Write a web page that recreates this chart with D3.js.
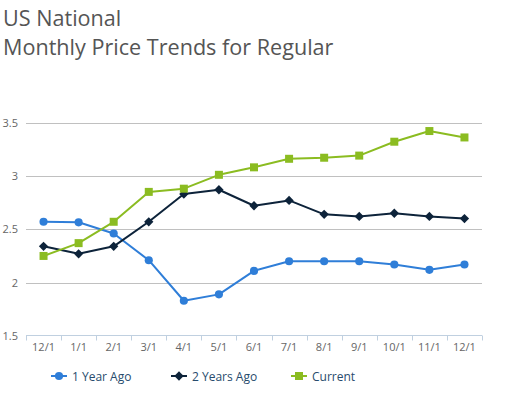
<!DOCTYPE html>
<html>
<head>
<meta charset="utf-8">
<script src="https://cdn.jsdelivr.net/npm/d3@7"></script>
<style>
  body { margin: 0; background: #fff; }
  svg { display: block; font-family: "Open Sans", sans-serif; }
</style>
</head>
<body>
<div id="chart"></div>
<script>
//-- DATA --\\
var months = ["12/1", "1/1", "2/1", "3/1", "4/1", "5/1", "6/1", "7/1", "8/1", "9/1", "10/1", "11/1", "12/1"];
var oneYearAgo = [2.57, 2.565, 2.46, 2.21, 1.83, 1.89, 2.11, 2.20, 2.20, 2.20, 2.17, 2.12, 2.17];
var twoYearsAgo = [2.34, 2.27, 2.34, 2.57, 2.83, 2.87, 2.72, 2.77, 2.64, 2.62, 2.65, 2.62, 2.60];
var current = [2.25, 2.37, 2.57, 2.85, 2.88, 3.01, 3.08, 3.16, 3.17, 3.19, 3.32, 3.42, 3.36];
var yTicks = [1.5, 2, 2.5, 3, 3.5];

//-- CONSTANTS --\\
var width = 513;
var height = 393;
var plotLeft = 26;
var plotRight = 482;
var plotTop = 122.5;
var plotBottom = 336;

var series = [
    {name: "1 Year Ago", values: oneYearAgo, color: "#2f7ed8", symbol: "circle"},
    {name: "2 Years Ago", values: twoYearsAgo, color: "#0d233a", symbol: "diamond"},
    {name: "Current", values: current, color: "#8bbc21", symbol: "square"}
];

var svg = d3.select("#chart").append("svg")
    .attr("width", width)
    .attr("height", height);

// title
var title = svg.append("text")
    .attr("fill", "#555")
    .style("font-size", "21.6px");
title.append("tspan").attr("x", 3).attr("y", 26).text("US National");
title.append("tspan").attr("x", 3).attr("y", 55).text("Monthly Price Trends for Regular");

//-- scales --\\
var x = d3.scaleBand()
    .domain(d3.range(months.length))
    .range([plotLeft, plotRight]);

var y = d3.scaleLinear()
    .domain([1.5, 3.5])
    .range([plotBottom, plotTop]);

// grid lines
svg.append("g")
    .selectAll("line")
    .data(yTicks.slice(1))
    .join("line")
    .attr("x1", plotLeft)
    .attr("x2", plotRight)
    .attr("y1", function (d) { return Math.round(y(d)) + 0.5; })
    .attr("y2", function (d) { return Math.round(y(d)) + 0.5; })
    .attr("stroke", "#c0c0c0")
    .attr("stroke-width", 1);

// y labels
svg.append("g")
    .selectAll("text")
    .data(yTicks)
    .join("text")
    .attr("x", 18)
    .attr("y", function (d) { return y(d) + 4; })
    .attr("text-anchor", "end")
    .attr("fill", "#666")
    .style("font-size", "11px")
    .text(function (d) { return d; });

// x axis
var xAxis = d3.axisBottom(x)
    .tickSize(5)
    .tickFormat(function (i) { return months[i]; });

var gx = svg.append("g")
    .attr("transform", "translate(0," + (Math.round(plotBottom) - 0.5) + ")")
    .call(xAxis);
gx.select(".domain").attr("stroke", "#c0d0e0").attr("d", "M" + plotLeft + ",0H" + plotRight);
gx.selectAll(".tick line").remove();
gx.selectAll(".tick text")
    .attr("fill", "#666")
    .attr("dy", "0.71em")
    .attr("y", 8)
    .style("font-size", "11px")
    .style("font-family", "Open Sans, sans-serif");

// band boundary ticks
gx.append("g")
    .selectAll("line")
    .data(d3.range(months.length + 1))
    .join("line")
    .attr("x1", function (i) { return Math.round(plotLeft + i * x.step()) + 0.5; })
    .attr("x2", function (i) { return Math.round(plotLeft + i * x.step()) + 0.5; })
    .attr("y1", 0)
    .attr("y2", 5)
    .attr("stroke", "#c0d0e0");

//-- series --\\
var line = d3.line()
    .x(function (d, i) { return x(i) + x.bandwidth() / 2; })
    .y(function (d) { return y(d); });

function symbolPath(kind, size) {
    if (kind === "circle") return d3.symbol(d3.symbolCircle, size)();
    if (kind === "square") return d3.symbol(d3.symbolSquare, size)();
    // diamond
    var r = Math.sqrt(size) * 0.6;
    return "M0," + (-r) + "L" + r + ",0L0," + r + "L" + (-r) + ",0Z";
}

var symSize = {circle: 52, diamond: 60, square: 64};

series.forEach(function (s) {
    var g = svg.append("g");
    g.append("path")
        .datum(s.values)
        .attr("fill", "none")
        .attr("stroke", s.color)
        .attr("stroke-width", 2)
        .attr("stroke-linejoin", "round")
        .attr("d", line);
    g.selectAll("path.pt")
        .data(s.values)
        .join("path")
        .attr("class", "pt")
        .attr("transform", function (d, i) {
            return "translate(" + (x(i) + x.bandwidth() / 2) + "," + y(d) + ")";
        })
        .attr("d", symbolPath(s.symbol, symSize[s.symbol]))
        .attr("fill", s.color);
});

//-- legend --\\
var legendX = [51, 171, 291];
var legendY = 376;
var legend = svg.append("g");
series.forEach(function (s, i) {
    var lg = legend.append("g").attr("transform", "translate(" + legendX[i] + "," + legendY + ")");
    lg.append("line")
        .attr("x1", 0).attr("x2", 16)
        .attr("y1", 0).attr("y2", 0)
        .attr("stroke", s.color)
        .attr("stroke-width", 2);
    lg.append("path")
        .attr("transform", "translate(8,0)")
        .attr("d", symbolPath(s.symbol, symSize[s.symbol]))
        .attr("fill", s.color);
    lg.append("text")
        .attr("x", 21)
        .attr("y", 4.5)
        .attr("fill", "#274b6d")
        .style("font-size", "12px")
        .text(s.name);
});
</script>
</body>
</html>
